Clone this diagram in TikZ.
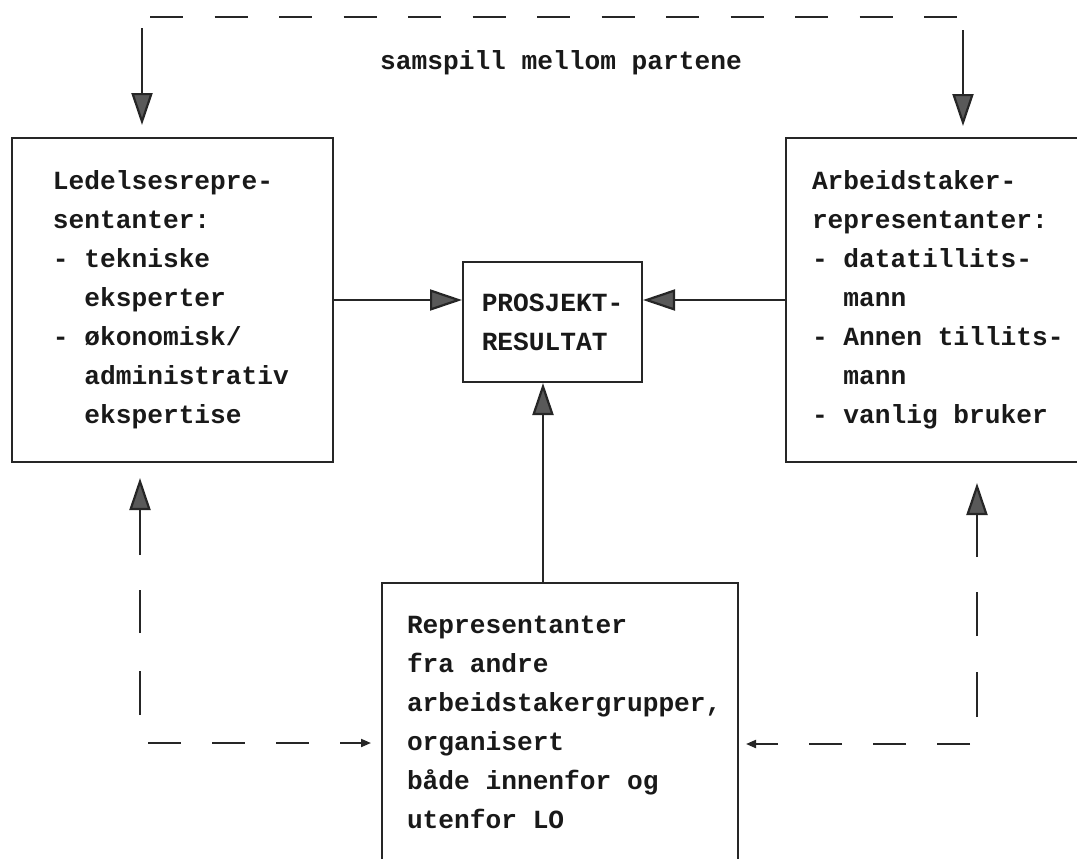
\documentclass[tikz,border=0pt]{standalone}
\usepackage{fontspec}
\newfontfamily\typewriter{Liberation Mono}
\usepackage{tikz}
\usetikzlibrary{arrows.meta}
\tikzset{
  part text/.style = {text=black!90,
                      font=\typewriter\bfseries\fontsize{13.1}{19.5}\selectfont,
                      execute at begin node={\spaceskip=0.6em\xspaceskip=0.6em\relax}},
  part box/.style  = {part text, draw=black!85, line width=1pt, align=left,
                      inner ysep=0pt},
  flow/.style      = {draw=black!85, line width=1.1pt,
                      -{Triangle[length=16pt, width=10.5pt, fill=black!65]}},
  link dash/.style = {draw=black!85, line width=1pt,
                      dash pattern=on 16.5pt off 15.75pt},
  link tip/.style  = {link dash, dash pattern=on 16.5pt off 15.5pt,
                      -{Triangle[length=5pt, width=4pt]}},
}

\begin{document}
\begin{tikzpicture}[x=0.5pt, y=-0.5pt]
    \path[use as bounding box, clip] (0,0) rectangle (1077,858);
    \node[part box, text width=119.5pt, inner xsep=20.5pt, minimum height=162pt]
      (lead) at (172.5,300)
      {Ledelsesrepre-\\sentanter:\\- tekniske\\\phantom{xx}eksperter\\
       - økonomisk/\\\phantom{xx}administrativ\\\phantom{xx}ekspertise};
    \node[part box, text width=131pt, inner xsep=13pt, minimum height=162pt]
      (arb) at (943,300)
      {Arbeidstaker-\\representanter:\\- datatillits-\\\phantom{xx}mann\\
       - Annen tillits-\\\phantom{xx}mann\\- vanlig bruker};
    \node[part box, minimum width=89.5pt, minimum height=60pt]
      (res) at (552.5,322) {PROSJEKT-\\RESULTAT};
    \node[part box, text width=153pt, inner xsep=12.5pt, minimum height=139.5pt]
      (rep) at (560,722.5)
      {Representanter\\fra andre\\arbeidstakergrupper,\\organisert\\
       både innenfor og\\utenfor LO};
    \node[part text] (samspill) at (561,63) {samspill mellom partene};
    \draw[flow] (lead.east) -- (lead.east -| res.west);
    \draw[flow] (arb.west) -- (arb.west -| res.east);
    \draw[flow] (rep.north -| 543,0) -- (res.south -| 543,0);
    % samspill over the top
    \coordinate (top left) at (150,17);
    \coordinate (top right) at (957,17);
    \coordinate (lead in) at (142,28);
    \coordinate (arb in) at (963,30);
    \draw[link dash] (top left) -- (top right);
    \draw[flow, shorten >=6pt] (lead in) -- (lead in |- lead.north);
    \draw[flow, shorten >=5.5pt] (arb in) -- (arb in |- arb.north);
    % feedback from the bottom
    \coordinate (lead up) at (140,555);
    \coordinate (lead corner) at (140,715);
    \coordinate (rep in left) at (148,743);
    \draw[flow, shorten >=7.5pt] (lead up) -- (lead up |- lead.south);
    \draw[link dash, dash pattern=on 22pt off 19pt] (lead corner) -- ++(0,-125);
    \draw[link tip, shorten >=5pt] (rep in left) -- (rep in left -| rep.west);
    \coordinate (arb up) at (977,557);
    \coordinate (arb corner) at (977,717);
    \coordinate (rep in right) at (970,744);
    \draw[flow, shorten >=10pt] (arb up) -- (arb up |- arb.south);
    \draw[link dash, dash pattern=on 22.5pt off 18pt] (arb corner) -- ++(0,-125);
    \draw[link tip, shorten >=3.5pt] (rep in right) -- (rep in right -| rep.east);
\end{tikzpicture}
\end{document}
